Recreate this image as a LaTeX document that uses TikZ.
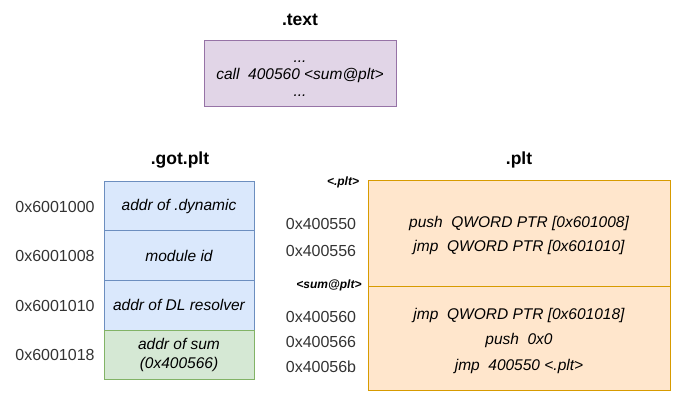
\documentclass[tikz,border=0pt]{standalone}
\usepackage{fontspec}
\setmainfont{Liberation Sans}
\definecolor{pfill}{HTML}{E1D5E7}\definecolor{pdraw}{HTML}{9673A6}
\definecolor{bfill}{HTML}{DAE8FC}\definecolor{bdraw}{HTML}{6C8EBF}
\definecolor{gfill}{HTML}{D5E8D4}\definecolor{gdraw}{HTML}{82B366}
\definecolor{ofill}{HTML}{FFE6CC}\definecolor{odraw}{HTML}{D79B00}
\definecolor{addr}{HTML}{333333}
\begin{document}
\begin{tikzpicture}[x=1pt,y=-1pt,
  title/.style={font=\fontsize{17.5}{20}\selectfont\bfseries},
  itx/.style={font=\fontsize{15.5}{19}\selectfont\itshape, align=center},
  adr/.style={font=\fontsize{16}{18}\selectfont, text=addr},
  tag/.style={font=\fontsize{12}{14}\selectfont\bfseries\itshape},
  cellb/.style={draw=bdraw, fill=bfill, line width=0.9pt},
  cellg/.style={draw=gdraw, fill=gfill, line width=0.9pt}]
\useasboundingbox (0,0) rectangle (684,402);
% .text
\node[title] (ttext) at (300,20) {.text};
\draw[draw=pdraw, fill=pfill, line width=0.9pt] (204,40) rectangle (396,106);
\node[itx] (tcode) at (300,79) {...\\[-2pt]call~~400560 <sum@plt>\\[-2pt]...};
% .got.plt
\node[title] (tgot) at (180,160) {.got.plt};
\draw[cellb] (104,181) rectangle (254,230);
\draw[cellb] (104,230) rectangle (254,280);
\draw[cellb] (104,280) rectangle (254,330);
\draw[cellg] (104,330) rectangle (254,379);
\node[itx] (g1) at (179,206) {addr of .dynamic};
\node[itx] (g2) at (179,256) {module id};
\node[itx] (g3) at (179,305) {addr of DL resolver};
\node[itx] (g4) at (179,355) {addr of sum\\(0x400566)};
\node[adr] (a1) at (55,207) {0x6001000};
\node[adr] (a2) at (55,256) {0x6001008};
\node[adr] (a3) at (55,306) {0x6001010};
\node[adr] (a4) at (55,355) {0x6001018};
% .plt
\node[title] (tplt) at (519,160) {.plt};
\draw[draw=odraw, fill=ofill, line width=0.9pt] (368,180) rectangle (670,390);
\draw[draw=odraw, line width=0.9pt] (368,286) -- (670,286);
\node[tag] (l1) at (343,182) {<.plt>};
\node[tag] (l2) at (329,285) {<sum@plt>};
\node[adr] (b1) at (321,224) {0x400550};
\node[adr] (b2) at (321,251) {0x400556};
\node[adr] (b3) at (321,317) {0x400560};
\node[adr] (b4) at (321,342) {0x400566};
\node[adr] (b5) at (321,367) {0x40056b};
\node[itx] (p1) at (519,223) {push~~QWORD PTR [0x601008]};
\node[itx] (p2) at (519,247) {jmp~~QWORD PTR [0x601010]};
\node[itx] (p3) at (519,315) {jmp~~QWORD PTR [0x601018]};
\node[itx] (p4) at (519,340) {push~~0x0};
\node[itx] (p5) at (519,366) {jmp~~400550 <.plt>};
\end{tikzpicture}
\end{document}
